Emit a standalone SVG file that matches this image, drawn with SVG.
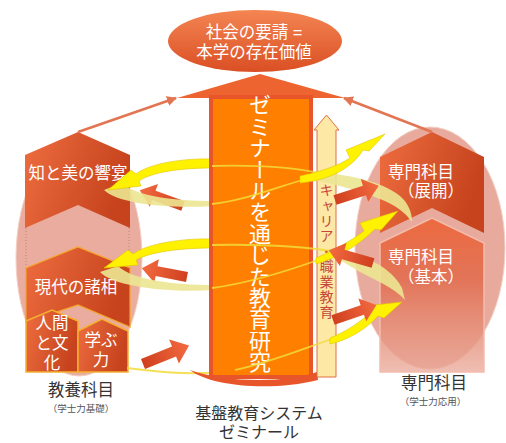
<svg xmlns="http://www.w3.org/2000/svg" width="506" height="443" viewBox="0 0 506 443">
<style>
.t{font-family:"Liberation Sans","Noto Sans CJK JP",sans-serif}
.v{font-family:"Noto Sans CJK JP",sans-serif}
.w{fill:#fff}
.k{fill:#333}
.yl{fill:none;stroke:#F2DA3A;stroke-width:1.8;opacity:.85}
.by{fill:#FFF200;stroke:#E2C400;stroke-width:.6}
.py{fill:#ECE592;opacity:.9}
.ra{fill:url(#gRed)}
.chev{fill:url(#gChev)}
.conn{fill:none;stroke:#E27552;stroke-width:2.5}
</style>
<defs>
<linearGradient id="gTop" x1="0" y1="0" x2="0" y2="1"><stop offset="0" stop-color="#F48552"/><stop offset="1" stop-color="#DA4F24"/></linearGradient>
<linearGradient id="gChev" x1="0" y1="0" x2="1" y2="0.3"><stop offset="0" stop-color="#EE6D3F"/><stop offset="1" stop-color="#C6431D"/></linearGradient>
<linearGradient id="gBase" x1="0" y1="0" x2="0" y2="1"><stop offset="0" stop-color="#EC6A40"/><stop offset="0.4" stop-color="#E27458"/><stop offset="1" stop-color="#E9A898" stop-opacity="0.75"/></linearGradient>
<linearGradient id="gRed" x1="0" y1="0" x2="1" y2="0"><stop offset="0" stop-color="#CF401F"/><stop offset="1" stop-color="#F36A40"/></linearGradient>
<path id="ra" d="M0,-5 L31,-5 L31,-12 L46,0 L31,12 L31,5 L0,5 Z"/>
<marker id="mh" viewBox="0 0 10 10" refX="9" refY="5" markerWidth="4" markerHeight="4" orient="auto"><path d="M0,0 L10,5 L0,10 Z" fill="#E27552"/></marker>
</defs>

<!-- background ellipses -->
<g id="ellipses">
<ellipse cx="79" cy="258" rx="63" ry="118" fill="#E39585" opacity="0.78" stroke="#F0C4B4"/>
<ellipse cx="430" cy="248" rx="75" ry="121" fill="#E39585" opacity="0.8" stroke="#F0C4B4"/>
<line x1="26" y1="228" x2="26" y2="266" stroke="#A07060" stroke-dasharray="1,2" opacity="0.6"/>
<line x1="129" y1="228" x2="129" y2="266" stroke="#A07060" stroke-dasharray="1,2" opacity="0.6"/>
</g>

<!-- top node -->
<g id="n-top">
<ellipse cx="255" cy="41" rx="87" ry="31" fill="url(#gTop)"/>
<text class="t w" font-size="16.5" text-anchor="middle"><tspan x="254" y="38">社会の要請 =</tspan><tspan x="254" y="58">本学の存在価値</tspan></text>
</g>

<!-- left chevrons -->
<g id="n-chibi">
<path class="chev" d="M25,155 L78,132 L130,155 L130,228 L78,205 L25,228 Z"/>
<text class="t w" x="78" y="179" font-size="16.5" text-anchor="middle">知と美の響宴</text>
</g>
<g id="n-gendai">
<path class="chev" d="M26,268 L78,247 L130,268 L130,327 L78,305 L26,322 Z" stroke="#F4A62A" stroke-width="1.2"/>
<text class="t w" x="76" y="293" font-size="16.5" text-anchor="middle">現代の諸相</text>
</g>
<g id="n-ningen">
<path class="chev" d="M26,321 L52,310 L78,321 L78,372 L26,372 Z" stroke="#F5B030" stroke-width="1.5"/>
<text class="t w" font-size="16.5" text-anchor="middle"><tspan x="52" y="329">人間</tspan><tspan x="52" y="349">と文</tspan><tspan x="52" y="369">化</tspan></text>
</g>
<g id="n-manabu">
<path class="chev" d="M78,331 L102,319 L128,331 L128,372 L78,372 Z" stroke="#F5B030" stroke-width="1.5"/>
<text class="t w" font-size="16.5" text-anchor="middle"><tspan x="101" y="346">学ぶ</tspan><tspan x="101" y="366">力</tspan></text>
</g>

<!-- right nodes -->
<g id="n-kihon">
<path d="M380,243 L432,218 L484,243 L484,372 L380,372 Z" fill="url(#gBase)" stroke="#F4BCAC" stroke-width="1.5"/>
<text class="t w" font-size="16.5" text-anchor="middle"><tspan x="421" y="263">専門科目</tspan><tspan x="431" y="283">（基本）</tspan></text>
</g>
<g id="n-tenkai">
<path class="chev" d="M380,157 L432,132 L484,157 L484,233 L432,208 L380,233 Z"/>
<text class="t w" font-size="16.5" text-anchor="middle"><tspan x="421" y="178">専門科目</tspan><tspan x="431" y="197">（展開）</tspan></text>
</g>

<!-- labels -->
<g id="labels">
<text class="t k" font-size="16.5" text-anchor="middle"><tspan x="81" y="396">教養科目</tspan><tspan x="81" y="412" font-size="9.5" fill="#555">（学士力基礎）</tspan></text>
<text class="t k" font-size="16.5" text-anchor="middle"><tspan x="434" y="389">専門科目</tspan><tspan x="433" y="405" font-size="9.5" fill="#555">（学士力応用）</tspan></text>
<text class="t k" font-size="16" text-anchor="middle"><tspan x="259" y="419">基盤教育システム</tspan><tspan x="259" y="438">ゼミナール</tspan></text>
</g>

<!-- connectors -->
<g id="connectors">
<path class="conn" d="M78,132 L176,98" marker-end="url(#mh)"/>
<path class="conn" d="M432,132 L344,98" marker-end="url(#mh)"/>
<!-- left red arrows -->
<use href="#ra" class="ra" transform="translate(183,206) rotate(200)"/>
<use href="#ra" class="ra" transform="translate(187,277) rotate(191)"/>
<use href="#ra" class="ra" transform="translate(143,364) rotate(-22) scale(1.08)"/>
<!-- left yellow rings -->
<path class="py" d="M104,190 C118,204 170,209 213,206 L213,201 C175,201 135,196 122,183 Z"/>
<path class="by" d="M213,159 C185,158 150,163 136,174 L131,170 L108,190 L141,186 L139,181 C152,172 180,168 213,168 Z"/>
<path class="py" d="M100,272 C114,287 170,293 213,290 L213,285 C175,285 132,280 118,266 Z"/>
<path class="by" d="M213,239 C185,238 148,243 133,254 L128,250 L104,268 L138,265 L136,260 C150,252 180,248 213,248 Z"/>
<path class="yl" d="M127,368 C165,373 205,376 235,370" opacity="0.7"/>
</g>

<!-- central big arrow -->
<g id="n-seminar">
<path d="M177,98 L260,74 L345,98 Z" fill="#EE6430"/>
<rect x="211" y="97" width="100" height="280" fill="#FF8000" stroke="#E9552B" stroke-width="4"/>
<path d="M190,370 C210,386 270,392 318,380 L317,372 C290,382 230,384 190,370 Z" fill="#E8552A"/>
<text class="v w" x="260" y="94" font-size="22" letter-spacing="-0.6" style="writing-mode:vertical-rl">ゼミナールを通じた教育研究</text>
</g>

<!-- career arrow -->
<g id="n-career">
<path d="M326.5,115 L339,130 L336,130 L336,377 L317,377 L317,130 L314,130 Z" fill="#FDE8A6" stroke="#E07040" stroke-width="1"/>
<text class="v" x="326.5" y="183" font-size="14" letter-spacing="1.2" fill="#C4473A" style="writing-mode:vertical-rl">キャリア・職業教育</text>
</g>

<!-- connectors over shaft -->
<g id="connectors-front">
<path class="yl" d="M212,166 C250,165 290,167 318,173"/>
<path class="yl" d="M212,204 C245,200 275,188 302,180"/>
<path class="yl" d="M212,245 C260,244 300,246 338,252"/>
<path class="yl" d="M212,288 C250,283 290,270 318,260"/>
<path class="yl" d="M235,370 C265,364 300,350 332,339"/>
<path class="py" d="M313,172 C345,174 380,180 400,196 C408,203 412,212 412,222 C405,212 395,205 380,199 C360,191 335,184 313,180 Z"/>
<path class="by" d="M300,176 C320,172 340,165 350,158 L346,150 L385,134 L369,151 L363,150 C352,168 330,180 300,183 Z"/>
<path class="py" d="M336,251 C365,254 392,268 402,288 L405,300 C395,288 375,280 360,272 C350,266 343,262 336,258 Z" opacity="0.75"/>
<path class="by" d="M316,258 C335,250 352,240 364,231 L360,223 L398,211 L381,230 L375,229 C360,244 340,257 316,264 Z"/>
<path class="by" d="M330,338 C350,330 362,320 370,313 L366,306 L402,302 L384,318 L378,316 C365,330 348,340 330,344 Z"/>
<use href="#ra" class="ra" transform="translate(335,200) rotate(-18)"/>
<use href="#ra" class="ra" transform="translate(373,263) rotate(196)"/>
<use href="#ra" class="ra" transform="translate(333,320) rotate(-19)"/>
</g>
</svg>
